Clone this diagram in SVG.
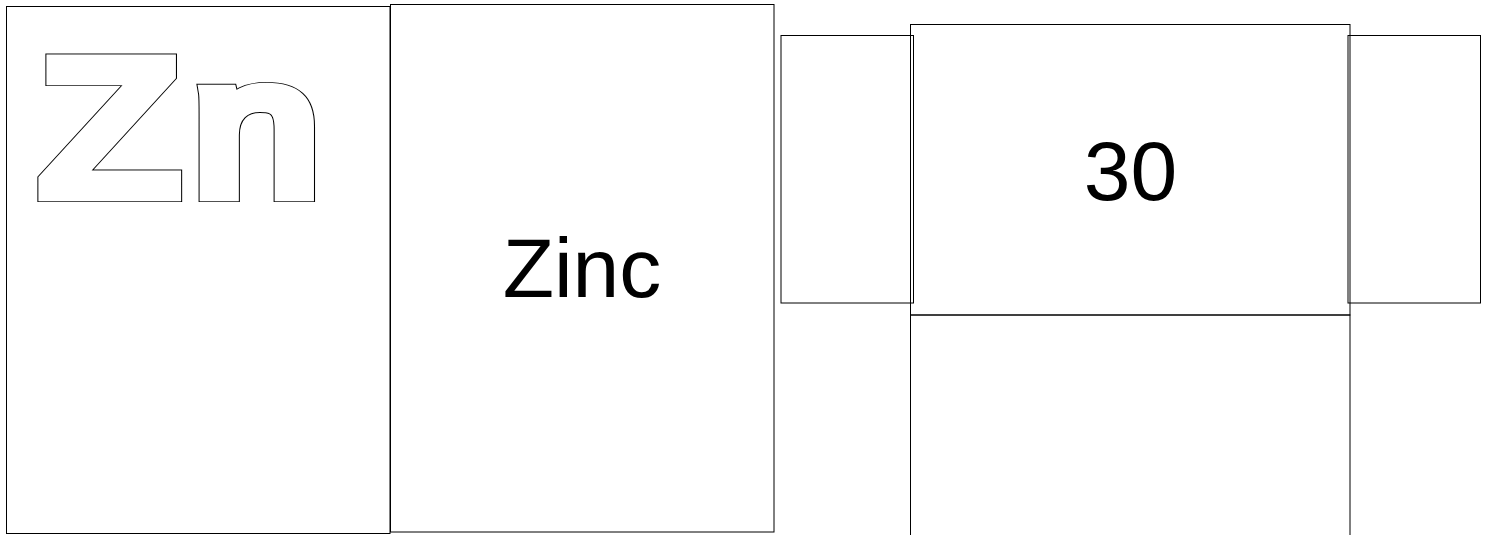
<svg xmlns="http://www.w3.org/2000/svg" width="1491" height="535" viewBox="0 0 1491 535">
<style>
.box{fill:none;stroke:#000;stroke-width:1}
.lbl{font-family:"Liberation Sans",Arial,sans-serif;font-size:84px;fill:#000;text-anchor:middle}
.sym{font-family:"Liberation Sans",Arial,sans-serif;font-weight:400;font-size:189px;stroke-linejoin:miter;stroke-miterlimit:10}
.sym-edge{fill:#000;stroke:#000;stroke-width:18.1}
.sym-body{fill:#fff;stroke:#fff;stroke-width:16.3}
</style>
<rect width="1491" height="535" fill="#fff"/>
<g id="symbol-cell">
<rect class="box" x="6.5" y="6.5" width="383.5" height="527"/>
<g transform="translate(41,192.8) scale(1.19,1)">
<text class="sym sym-edge" x="0" y="0">Z<tspan dx="13">n</tspan></text>
<text class="sym sym-body" x="0" y="0">Z<tspan dx="13">n</tspan></text>
</g>
</g>
<g id="name-cell">
<rect class="box" x="390.5" y="4.5" width="383.5" height="527.5"/>
<text class="lbl" x="582" y="297">Zinc</text>
</g>
<g id="number-cell">
<rect class="box" x="910.5" y="24.5" width="439.5" height="290.5"/>
<rect class="box" x="910.5" y="315" width="439.5" height="230"/>
<text class="lbl" x="1130.5" y="200">30</text>
</g>
<g id="left-flap">
<rect class="box" x="781" y="35.5" width="132.5" height="267.5"/>
</g>
<g id="right-flap">
<rect class="box" x="1348" y="35.5" width="132.5" height="267.5"/>
</g>
<g id="connectors"></g>
</svg>
